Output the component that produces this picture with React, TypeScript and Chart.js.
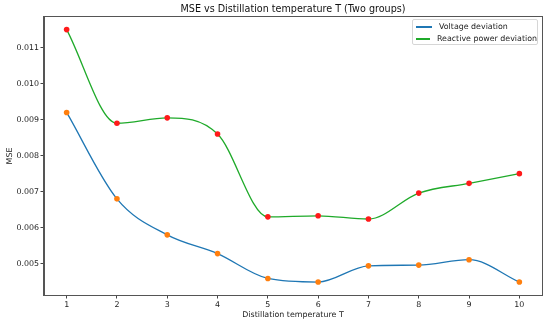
import React, { useEffect, useRef } from "react";
import { Chart, registerables } from "chart.js";

Chart.register(...registerables);

const temps = [1, 2, 3, 4, 5, 6, 7, 8, 9, 10];
const voltageDev = [0.0092, 0.0068, 0.0058, 0.00528, 0.00459, 0.00449, 0.00494, 0.00496, 0.00511, 0.00449];
const reactiveDev = [0.0115, 0.0089, 0.00905, 0.0086, 0.0063, 0.00633, 0.00624, 0.00696, 0.00723, 0.0075];
const yTicks = [0.005, 0.006, 0.007, 0.008, 0.009, 0.01, 0.011];
const seriesLabels = ["Voltage deviation", "Reactive power deviation"];
const titleText = "MSE vs Distillation temperature T (Two groups)";
const lineColors = ["#1f77b4", "#1faa2a"];
const markerColors = ["#ff7f0e", "#ff1a1a"];

const FONT = "'DejaVu Sans', sans-serif";

const framePlugin = {
  id: "frame",
  afterDraw(chart: any) {
    const { ctx, chartArea } = chart;
    ctx.save();
    ctx.strokeStyle = "#555";
    ctx.lineWidth = 1;
    ctx.strokeRect(
      Math.round(chartArea.left) - 0.5,
      Math.round(chartArea.top) - 0.5,
      Math.round(chartArea.right - chartArea.left) + 1,
      Math.round(chartArea.bottom - chartArea.top) + 1
    );
    ctx.restore();
  },
};

export default function App() {
  const ref = useRef<HTMLCanvasElement | null>(null);

  useEffect(() => {
    document.body.style.margin = "0";
    const canvas = ref.current!;
    const mk = (vals: number[], i: number) => ({
      label: seriesLabels[i],
      data: temps.map((t, k) => ({ x: t, y: vals[k] })),
      borderColor: lineColors[i],
      backgroundColor: lineColors[i],
      borderWidth: 1.3,
      cubicInterpolationMode: "monotone",
      pointRadius: 2.8,
      pointBorderWidth: 0,
      pointBackgroundColor: markerColors[i],
      pointBorderColor: markerColors[i],
      fill: false,
    });
    const chart = new Chart(canvas, {
      type: "line",
      data: { datasets: [mk(voltageDev, 0), mk(reactiveDev, 1)] },
      options: {
        responsive: false,
        animation: false,
        layout: { padding: { left: 0, right: 8, top: 17, bottom: 0 } },
        plugins: {
          legend: { display: false },
          tooltip: { enabled: false },
          title: { display: false },
        },
        scales: {
          x: {
            type: "linear",
            min: 0.55,
            max: 10.45,
            afterBuildTicks: (s: any) => {
              s.ticks = temps.map((v) => ({ value: v }));
            },
            afterFit: (s: any) => {
              s.height = 29;
            },
            grid: { drawOnChartArea: false, drawTicks: true, tickLength: 3.5, tickColor: "#444" },
            border: { display: true, color: "#555" },
            ticks: { color: "#222", font: { family: FONT, size: 7.9 }, padding: 1.5, maxRotation: 0, autoSkip: false },
            title: {
              display: true,
              text: "Distillation temperature T",
              color: "#222",
              font: { family: FONT, size: 7.9 },
              padding: { top: 0, bottom: 4 },
            },
          },
          y: {
            type: "linear",
            min: 0.00413,
            max: 0.01185,
            afterBuildTicks: (s: any) => {
              s.ticks = yTicks.map((v) => ({ value: v }));
            },
            afterFit: (s: any) => {
              s.width = 44;
            },
            grid: { drawOnChartArea: false, drawTicks: true, tickLength: 3.5, tickColor: "#444" },
            border: { display: true, color: "#555" },
            ticks: {
              color: "#222",
              font: { family: FONT, size: 7.9 },
              padding: 1.5,
              callback: (v: any) => Number(v).toFixed(3),
            },
            title: {
              display: true,
              text: "MSE",
              color: "#222",
              font: { family: FONT, size: 7.9 },
              padding: { top: 4.8, bottom: 0 },
            },
          },
        },
      },
      plugins: [framePlugin],
    } as any);
    return () => chart.destroy();
  }, []);

  return (
    <div style={{ position: "relative", width: 550, height: 324 }}>
      <canvas ref={ref} width={550} height={324} style={{ display: "block" }} />
      <div
        style={{
          position: "absolute",
          left: 44,
          width: 498,
          top: 3,
          textAlign: "center",
          fontFamily: FONT,
          fontSize: 9.6,
          lineHeight: "12px",
          color: "#111",
          whiteSpace: "nowrap",
        }}
      >
        {titleText}
      </div>
      <div
        style={{
          position: "absolute",
          left: 412,
          top: 19,
          width: 126,
          height: 26,
          border: "1px solid #d6d6d6",
          borderRadius: 2,
          background: "rgba(255,255,255,0.8)",
          fontFamily: FONT,
          fontSize: 7.9,
          color: "#222",
          boxSizing: "border-box",
          padding: "1px 0 0 3px",
        }}
      >
        {seriesLabels.map((lab, i) => (
          <div key={lab} style={{ display: "flex", alignItems: "center", height: 12, lineHeight: "12px" }}>
            <span style={{ display: "inline-block", width: 16, height: 2, background: lineColors[i], marginRight: 7 }} />
            <span style={{ whiteSpace: "nowrap" }}>{lab}</span>
          </div>
        ))}
      </div>
    </div>
  );
}
